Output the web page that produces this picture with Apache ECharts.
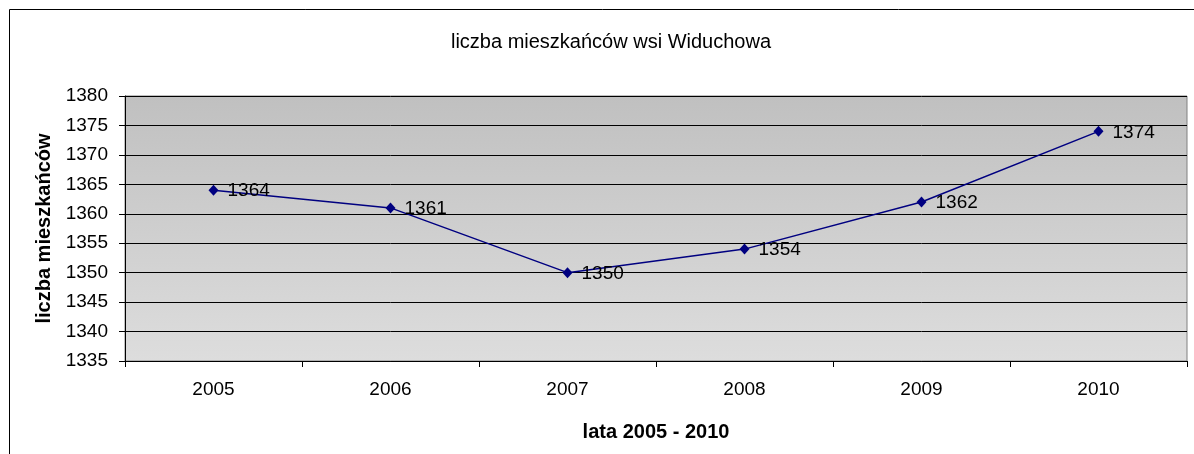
<!DOCTYPE html>
<html>
<head>
<meta charset="utf-8">
<script src="https://cdn.jsdelivr.net/npm/echarts@6/dist/echarts.min.js"></script>
<style>
  html, body { margin: 0; padding: 0; background: #fff; }
  #chart { width: 1194px; height: 454px; }
</style>
</head>
<body>
<div id="chart"></div>
<script>
// Population of Widuchowa village, 2005–2010
const years = ['2005', '2006', '2007', '2008', '2009', '2010'];
const residents = [1364, 1361, 1350, 1354, 1362, 1374];
const yMin = 1335, yMax = 1380, yStep = 5;

const font = 'Liberation Sans, Arial, sans-serif';
const chart = echarts.init(document.getElementById('chart'));

chart.setOption({
  animation: false,
  backgroundColor: '#fff',
  graphic: [
    {
      type: 'rect',
      shape: { x: 9.5, y: 9.5, width: 1200, height: 460 },
      style: { fill: 'none', stroke: '#000', lineWidth: 1 },
      silent: true
    }
  ],
  title: {
    text: 'liczba mieszkańców wsi Widuchowa',
    left: 606, top: 27, textAlign: 'center',
    textStyle: { fontFamily: font, fontSize: 20, fontWeight: 'normal', color: '#000' }
  },
  grid: {
    left: 125, top: 96, right: 7, bottom: 93,
    show: true,
    borderColor: '#808080', borderWidth: 1,
    backgroundColor: new echarts.graphic.LinearGradient(0, 0, 0, 1, [
      { offset: 0, color: '#c0c0c0' },
      { offset: 1, color: '#dddddd' }
    ])
  },
  xAxis: {
    type: 'category',
    data: years,
    boundaryGap: true,
    name: 'lata 2005 - 2010',
    nameLocation: 'middle',
    nameGap: 61,
    nameTextStyle: { fontFamily: font, fontSize: 20, fontWeight: 'bold', color: '#000' },
    axisLine: { lineStyle: { color: '#000', width: 1 } },
    axisTick: { show: true, length: 6, inside: false, lineStyle: { color: '#000' } },
    axisLabel: { fontFamily: font, fontSize: 19, color: '#000', margin: 19 },
    splitLine: { show: false }
  },
  yAxis: {
    type: 'value',
    min: yMin, max: yMax, interval: yStep,
    name: 'liczba mieszkańców',
    nameLocation: 'middle',
    nameGap: 71,
    nameTextStyle: { fontFamily: font, fontSize: 20, fontWeight: 'bold', color: '#000' },
    axisLine: { show: true, lineStyle: { color: '#000', width: 1 } },
    axisTick: { show: true, length: 6, lineStyle: { color: '#000' } },
    axisLabel: {
      fontFamily: font, fontSize: 19, color: '#000', margin: 17,
      formatter: v => String(v)
    },
    splitLine: { show: true, lineStyle: { color: '#000', width: 1 } }
  },
  series: [{
    type: 'line',
    data: residents,
    symbol: 'diamond',
    symbolSize: [10, 11],
    itemStyle: { color: '#000080' },
    lineStyle: { color: '#000080', width: 1.5 },
    label: {
      show: true,
      position: 'right',
      distance: 9,
      fontFamily: font, fontSize: 19, color: '#000',
      offset: [0, 1]
    }
  }]
});
</script>
</body>
</html>
